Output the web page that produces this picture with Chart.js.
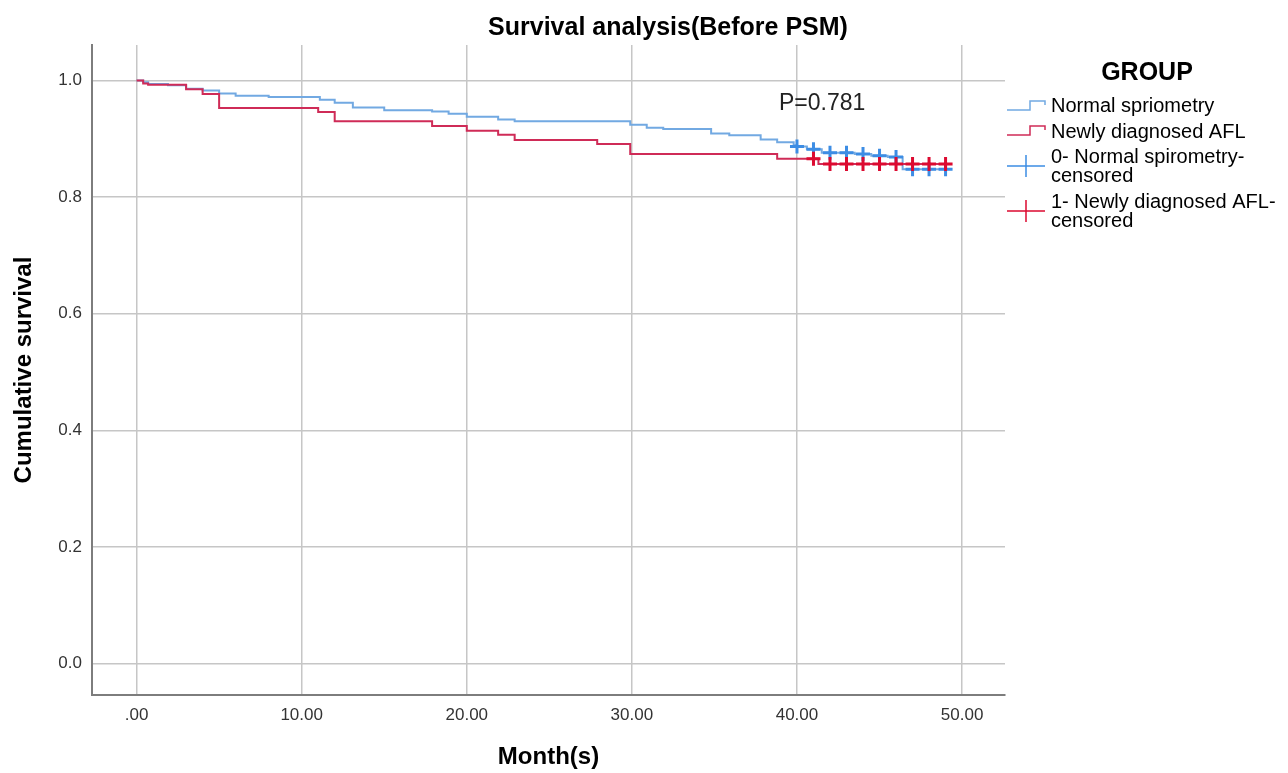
<!DOCTYPE html>
<html>
<head>
<meta charset="utf-8">
<title>Survival analysis(Before PSM)</title>
<script src="https://cdn.jsdelivr.net/npm/chart.js@4/dist/chart.umd.min.js"></script>
<style>
    html, body { margin: 0; padding: 0; background: #ffffff; }
    #wrap { width: 1288px; height: 773px; }
</style>
</head>
<body>
<div id="wrap"><canvas id="kmChart" width="1288" height="773"></canvas></div>
<script>
// Kaplan-Meier estimates (month, cumulative survival)
const normalTimes = [0, 0.4, 0.7, 1.9, 3.0, 4.0, 5.0, 6.0, 8.0, 11.1, 12.0, 13.1, 15.0, 17.9, 18.9, 20.0, 21.9, 22.9,
    29.9, 30.9, 31.9, 34.8, 35.9, 37.8, 38.8, 39.8, 39.95, 40.6, 41.5, 43.5, 44.5, 45.5, 46.4, 49.0];
const normalSurv = [1.000, 0.997, 0.994, 0.992, 0.986, 0.983, 0.978, 0.974, 0.972, 0.967, 0.962, 0.954, 0.949, 0.947, 0.943, 0.938, 0.933, 0.930,
    0.924, 0.919, 0.917, 0.909, 0.906, 0.899, 0.894, 0.889, 0.887, 0.882, 0.876, 0.874, 0.871, 0.869, 0.848, 0.848];

const aflTimes = [0, 0.4, 0.7, 3.0, 4.0, 5.0, 11.0, 12.0, 17.9, 20.0, 21.9, 22.9, 27.9, 29.9, 38.8, 41.3, 49.0];
const aflSurv = [1.000, 0.995, 0.993, 0.985, 0.977, 0.953, 0.946, 0.930, 0.922, 0.914, 0.907, 0.898, 0.891, 0.874, 0.866, 0.857, 0.857];

// censored observations
const normalCensorTimes = [40, 41, 42, 43, 44, 45, 46, 47, 48, 49];
const normalCensorSurv = [0.887, 0.882, 0.876, 0.876, 0.874, 0.871, 0.869, 0.848, 0.848, 0.848];
const aflCensorTimes = [41, 42, 43, 44, 45, 46, 47, 48, 49];
const aflCensorSurv = [0.866, 0.857, 0.857, 0.857, 0.857, 0.857, 0.857, 0.857, 0.857];

const xTicks = [0, 10, 20, 30, 40, 50];
const xTickLabels = ['.00', '10.00', '20.00', '30.00', '40.00', '50.00'];
const yTicks = [0, 0.2, 0.4, 0.6, 0.8, 1.0];
const yTickLabels = ['0.0', '0.2', '0.4', '0.6', '0.8', '1.0'];

const groupLabels = ['Normal spriometry', 'Newly diagnosed AFL'];
const censorLabels = [['0- Normal spirometry-', 'censored'], ['1- Newly diagnosed AFL-', 'censored']];
const pValueText = 'P=0.781';

const FONT = "Arial, 'Liberation Sans', sans-serif";
const blueLine = '#72a9e2';
const redLine = '#cf2b57';
const blueMark = '#3d8de4';
const redMark = '#dc0a30';

function toPoints(xs, ys) {
    return xs.map((x, i) => ({ x: x, y: ys[i] }));
}

// title, p-value and the SPSS style legend are drawn by hand
const annotations = {
    id: 'annotations',
    afterDraw(chart) {
        const ctx = chart.ctx;
        ctx.save();
        ctx.fillStyle = '#000';
        ctx.textBaseline = 'middle';

        ctx.font = 'bold 25px ' + FONT;
        ctx.textAlign = 'center';
        ctx.fillText('Survival analysis(Before PSM)', 668, 28);

        ctx.font = '23px ' + FONT;
        ctx.fillStyle = '#222';
        ctx.textAlign = 'left';
        ctx.fillText(pValueText, 779, 104);

        // legend
        ctx.fillStyle = '#000';
        ctx.font = 'bold 25px ' + FONT;
        ctx.textAlign = 'center';
        ctx.fillText('GROUP', 1147, 73);

        ctx.font = '20px ' + FONT;
        ctx.textAlign = 'left';
        const stepRows = [[106, 110, 101, blueLine], [132, 135, 126, redLine]];
        stepRows.forEach((r, i) => {
            ctx.strokeStyle = r[3];
            ctx.lineWidth = 1.5;
            ctx.beginPath();
            ctx.moveTo(1007, r[1]);
            ctx.lineTo(1030, r[1]);
            ctx.lineTo(1030, r[2]);
            ctx.lineTo(1045, r[2]);
            ctx.lineTo(1045, r[2] + 4);
            ctx.stroke();
            ctx.fillText(groupLabels[i], 1051, r[0]);
        });

        const crossRows = [[166, blueMark], [211, redMark]];
        crossRows.forEach((r, i) => {
            ctx.strokeStyle = r[1];
            ctx.lineWidth = 1.5;
            ctx.beginPath();
            ctx.moveTo(1007, r[0]);
            ctx.lineTo(1045, r[0]);
            ctx.moveTo(1026, r[0] - 11);
            ctx.lineTo(1026, r[0] + 11);
            ctx.stroke();
            ctx.fillText(censorLabels[i][0], 1051, r[0] - 9);
            ctx.fillText(censorLabels[i][1], 1051, r[0] + 10);
        });
        ctx.restore();
    }
};

const ctx = document.getElementById('kmChart').getContext('2d');
const chart = new Chart(ctx, {
    type: 'line',
    data: {
        datasets: [{
            label: groupLabels[0],
            data: toPoints(normalTimes, normalSurv),
            borderColor: blueLine,
            borderWidth: 2,
            stepped: 'before',
            pointRadius: 0,
            fill: false,
            order: 4
        }, {
            label: groupLabels[1],
            data: toPoints(aflTimes, aflSurv),
            borderColor: redLine,
            borderWidth: 2,
            stepped: 'before',
            pointRadius: 0,
            fill: false,
            order: 3
        }, {
            label: censorLabels[0].join(''),
            data: toPoints(normalCensorTimes, normalCensorSurv),
            showLine: false,
            pointStyle: 'cross',
            pointRadius: 7,
            pointBorderWidth: 3,
            pointBorderColor: blueMark,
            borderColor: blueMark,
            order: 2
        }, {
            label: censorLabels[1].join(''),
            data: toPoints(aflCensorTimes, aflCensorSurv),
            showLine: false,
            pointStyle: 'cross',
            pointRadius: 7,
            pointBorderWidth: 3,
            pointBorderColor: redMark,
            borderColor: redMark,
            order: 1
        }]
    },
    options: {
        responsive: false,
        animation: false,
        layout: {
            padding: { top: 45, right: 283, left: 0, bottom: 0 }
        },
        scales: {
            x: {
                type: 'linear',
                min: -2.7,
                max: 52.6,
                afterBuildTicks: (scale) => { scale.ticks = xTicks.map(v => ({ value: v })); },
                afterFit: (scale) => { scale.height = 78; },
                ticks: {
                    padding: 10,
                    color: '#333',
                    font: { family: FONT, size: 17 },
                    callback: (v) => xTickLabels[xTicks.indexOf(v)]
                },
                grid: { color: '#c6c6c6', lineWidth: 1.5, drawTicks: false },
                border: { display: true, color: '#7d7d7d', width: 2 },
                title: {
                    display: true,
                    text: 'Month(s)',
                    color: '#000',
                    font: { family: FONT, size: 24, weight: 'bold' },
                    padding: { top: 0, bottom: 1 }
                }
            },
            y: {
                min: -0.054,
                max: 1.061,
                afterBuildTicks: (scale) => { scale.ticks = yTicks.map(v => ({ value: v })); },
                afterFit: (scale) => { scale.width = 92; },
                ticks: {
                    padding: 10,
                    color: '#333',
                    font: { family: FONT, size: 17 },
                    callback: (v) => yTickLabels[yTicks.indexOf(v)]
                },
                grid: { color: '#c6c6c6', lineWidth: 1.5, drawTicks: false },
                border: { display: true, color: '#7d7d7d', width: 2 },
                title: {
                    display: true,
                    text: 'Cumulative survival',
                    color: '#000',
                    font: { family: FONT, size: 24, weight: 'bold' },
                    padding: { top: 10, bottom: 0 }
                }
            }
        },
        plugins: {
            legend: { display: false },
            tooltip: { enabled: false }
        }
    },
    plugins: [annotations]
});
</script>
</body>
</html>
